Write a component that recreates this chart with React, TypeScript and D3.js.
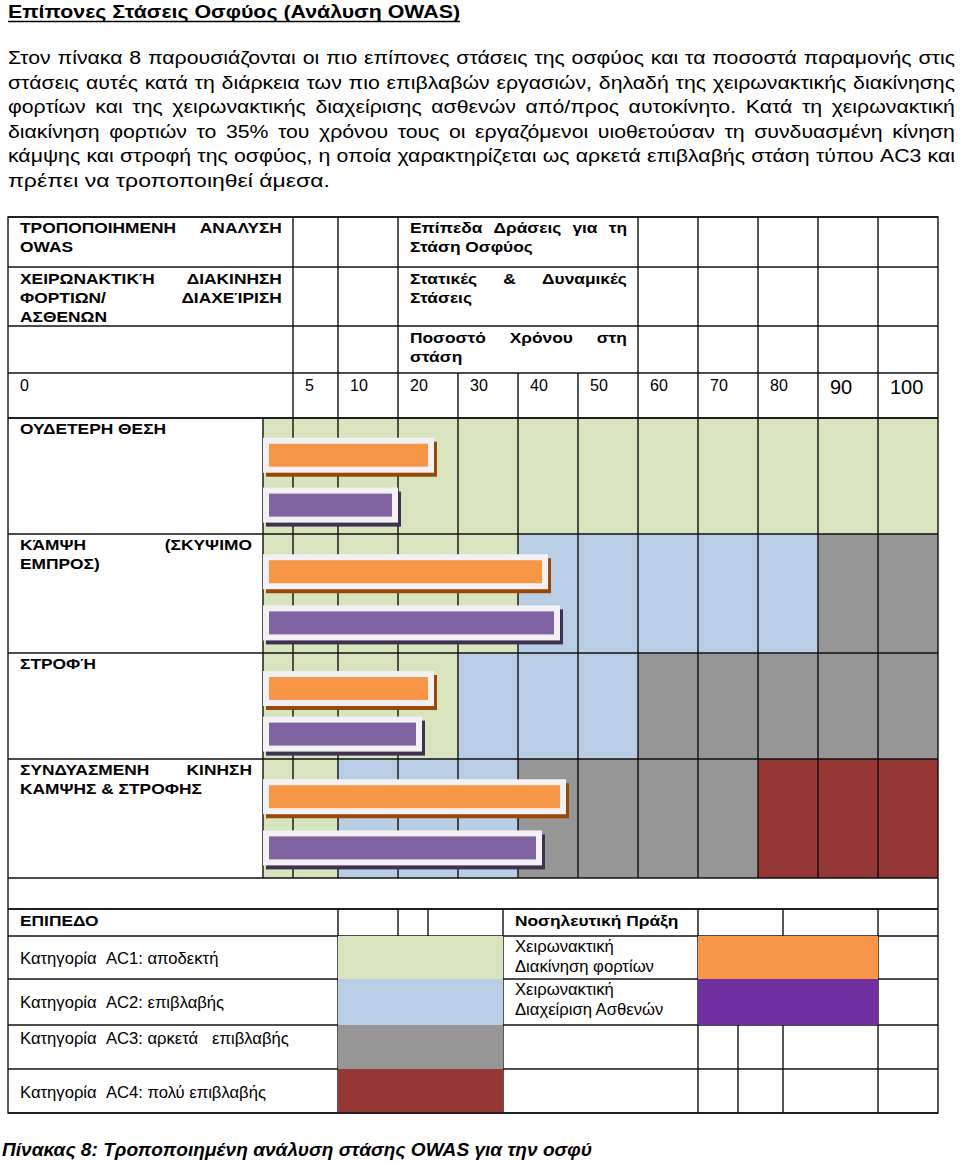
import React, { useLayoutEffect, useRef } from 'react';
import * as d3 from 'd3';

// ---------- data ----------
const TICKS = [0, 5, 10, 20, 30, 40, 50, 60, 70, 80, 90, 100];
const ROW_LABELS: string[][] = [
  ['ΟΥΔΕΤΕΡΗ ΘΕΣΗ'],
  ['ΚΆΜΨΗ (ΣΚΥΨΙΜΟ', 'ΕΜΠΡΟΣ)'],
  ['ΣΤΡΟΦΉ'],
  ['ΣΥΝΔΥΑΣΜΕΝΗ ΚΙΝΗΣΗ', 'ΚΑΜΨΗΣ & ΣΤΡΟΦΗΣ'],
];
// percentage of time in posture
const LOAD_HANDLING = [25, 44, 25, 47];
const PATIENT_HANDLING = [19, 46, 23, 43];
// action level (1..4) of each cell, per posture row
const ROW_LEVELS = [
  [1, 1, 1, 1, 1, 1, 1, 1, 1, 1, 1, 1],
  [1, 1, 1, 1, 1, 2, 2, 2, 2, 2, 3, 3],
  [1, 1, 1, 1, 2, 2, 2, 3, 3, 3, 3, 3],
  [1, 1, 2, 2, 2, 3, 3, 3, 3, 4, 4, 4],
];
const LEVEL_LABELS = [
  'Κατηγορία  AC1: αποδεκτή',
  'Κατηγορία  AC2: επιβλαβής',
  'Κατηγορία  AC3: αρκετά   επιβλαβής',
  'Κατηγορία  AC4: πολύ επιβλαβής',
];
const SERIES_LABELS = [
  ['Χειρωνακτική', 'Διακίνηση φορτίων'],
  ['Χειρωνακτική', 'Διαχείριση Ασθενών'],
];
const PARAGRAPH = [
  'Στον πίνακα 8 παρουσιάζονται οι πιο επίπονες στάσεις της οσφύος και τα ποσοστά παραμονής στις',
  'στάσεις αυτές κατά τη διάρκεια των πιο επιβλαβών εργασιών, δηλαδή της χειρωνακτικής διακίνησης',
  'φορτίων και της χειρωνακτικής διαχείρισης ασθενών από/προς αυτοκίνητο. Κατά τη χειρωνακτική',
  'διακίνηση φορτιών το 35% του χρόνου τους οι εργαζόμενοι υιοθετούσαν τη συνδυασμένη κίνηση',
  'κάμψης και στροφή της οσφύος, η οποία χαρακτηρίζεται ως αρκετά επιβλαβής στάση τύπου AC3 και',
  'πρέπει να τροποποιηθεί άμεσα.',
];

// ---------- styles ----------
const LEVEL_COLORS = ['#d7e4bd', '#b9cde5', '#969696', '#953735'];
const BAR_FILL = ['#f79646', '#8064a2'];
const BAR_SHADOW = ['#984807', '#3f3151'];
const LEGEND_SERIES = ['#f79646', '#7030a0'];
const FONT = 'Liberation Sans, Arial, sans-serif';

const L = 8;
const R = 938;
const x = d3.scaleLinear().domain(TICKS).range([263, 293, 338, 398, 458, 518, 578, 638, 698, 758, 818, 878]);
const cellEnd = (i: number) => (i < TICKS.length - 1 ? x(TICKS[i + 1]) : R);

const HEADER_Y = [217, 267, 326, 373, 418];
const ROW_Y = [418, 534, 653, 759, 878];
const BLANK_BOTTOM = 909;
const LEG_Y = [909, 936, 979, 1025, 1069, 1113];

// justified line: glyphs stretched horizontally up to kMax, remaining space goes between words
function Justified({ x0, x1, y, text, size, weight = 'normal', kMax = 1.1 }: any) {
  const ref = useRef<SVGTextElement>(null);
  const words = text.split(/\s+/);
  useLayoutEffect(() => {
    const el = ref.current;
    if (!el) return;
    const spans = Array.from(el.querySelectorAll('tspan')) as SVGTSpanElement[];
    const widths = spans.map((s) => s.getComputedTextLength());
    const total = widths.reduce((a, b) => a + b, 0);
    const W = x1 - x0;
    const natural = total + (spans.length - 1) * size * 0.278;
    const k = Math.min(kMax, W / natural);
    const gap = spans.length > 1 ? (W / k - total) / (spans.length - 1) : 0;
    el.setAttribute('transform', `translate(${x0},${y}) scale(${k},1)`);
    let cx = 0;
    spans.forEach((s, i) => {
      s.setAttribute('x', String(cx));
      cx += widths[i] + gap;
    });
  }, [text, x0, x1]);
  return (
    <text ref={ref} transform={`translate(${x0},${y})`} fontSize={size} fontWeight={weight} fill="#000" fontFamily={FONT}>
      {words.map((w: string, i: number) => (
        <tspan key={i} x={0} y={0}>
          {w}
        </tspan>
      ))}
    </text>
  );
}

function T({ x: tx, y, children, size = 16, weight = 'normal', style = 'normal', k = 1, len }: any) {
  return (
    <text
      transform={`translate(${tx},${y}) scale(${k},1)`}
      fontSize={size}
      fontWeight={weight}
      fontStyle={style}
      fontFamily={FONT}
      fill="#000"
      style={{ whiteSpace: 'pre' }}
      {...(len ? { textLength: len, lengthAdjust: 'spacingAndGlyphs' } : {})}
    >
      {children}
    </text>
  );
}

const line = (x1: number, y1: number, x2: number, y2: number, k: string) => (
  <line key={k} x1={x1} y1={y1} x2={x2} y2={y2} stroke="#111" strokeWidth={1.4} />
);

const TK = 1.12; // horizontal stretch of table text
const TS = 15.5;

export default function App() {
  const lines: JSX.Element[] = [];
  HEADER_Y.forEach((y, i) => lines.push(line(L, y, R, y, 'hh' + i)));
  const headerCols = [5, 10, 20, 60, 70, 80, 90, 100];
  headerCols.forEach((t) => lines.push(line(x(t), HEADER_Y[0], x(t), HEADER_Y[3], 'hv' + t)));
  TICKS.slice(1).forEach((t) => lines.push(line(x(t), HEADER_Y[3], x(t), HEADER_Y[4], 'nv' + t)));

  const cells: JSX.Element[] = [];
  ROW_LEVELS.forEach((levels, r) => {
    levels.forEach((lv, i) => {
      cells.push(
        <rect
          key={`c${r}-${i}`}
          x={x(TICKS[i])}
          y={ROW_Y[r]}
          width={cellEnd(i) - x(TICKS[i])}
          height={ROW_Y[r + 1] - ROW_Y[r]}
          fill={LEVEL_COLORS[lv - 1]}
        />
      );
    });
  });
  ROW_Y.forEach((y, i) => lines.push(line(L, y, R, y, 'rh' + i)));
  TICKS.forEach((t) => lines.push(line(x(t), ROW_Y[0], x(t), ROW_Y[ROW_Y.length - 1], 'rv' + t)));
  lines.push(line(L, BLANK_BOTTOM, R, BLANK_BOTTOM, 'blank'));

  const bars: JSX.Element[] = [];
  const series = [LOAD_HANDLING, PATIENT_HANDLING];
  const offs = [0.17, 0.6];
  const FH = 35;
  series.forEach((vals, s) => {
    vals.forEach((v, r) => {
      const h = ROW_Y[r + 1] - ROW_Y[r];
      const top = ROW_Y[r] + offs[s] * h;
      const x0 = x(0);
      const x1 = x(v);
      bars.push(
        <g key={`b${s}-${r}`}>
          <rect x={x0 + 3} y={top + 4} width={x1 + 6 - x0} height={FH} fill={BAR_SHADOW[s]} />
          <rect x={x0} y={top} width={x1 + 6 - x0} height={FH} fill="#f3f1f3" />
          <rect x={x0 + 6} y={top + 6} width={x1 - x0 - 6} height={FH - 12} fill={BAR_FILL[s]} />
        </g>
      );
    });
  });

  const legend: JSX.Element[] = [];
  LEG_Y.forEach((y, i) => lines.push(line(L, y, R, y, 'lh' + i)));
  LEVEL_COLORS.forEach((c, i) => {
    legend.push(<rect key={'lc' + i} x={338} y={LEG_Y[i + 1]} width={165} height={LEG_Y[i + 2] - LEG_Y[i + 1]} fill={c} />);
  });
  LEGEND_SERIES.forEach((c, i) => {
    legend.push(<rect key={'ls' + i} x={698} y={LEG_Y[i + 1]} width={180} height={LEG_Y[i + 2] - LEG_Y[i + 1]} fill={c} />);
  });
  [338, 503, 698, 878].forEach((vx) => lines.push(line(vx, LEG_Y[0], vx, LEG_Y[5], 'lv' + vx)));
  [398, 428].forEach((vx) => lines.push(line(vx, LEG_Y[0], vx, LEG_Y[1], 'lv1' + vx)));
  lines.push(line(783, LEG_Y[0], 783, LEG_Y[1], 'lv783a'));
  [738, 783].forEach((vx) => lines.push(line(vx, LEG_Y[3], vx, LEG_Y[5], 'lv3' + vx)));

  return (
    <svg width={960} height={1163} style={{ position: 'absolute', left: 0, top: 0, background: '#fff' }}>
      <rect x={0} y={0} width={960} height={1163} fill="#fff" />
      <T x={8} y={18} size={18} weight="bold" len={452}>
        Επίπονες Στάσεις Οσφύος (Ανάλυση OWAS)
      </T>
      <line x1={8} y1={21.5} x2={460} y2={21.5} stroke="#000" strokeWidth={1.3} />
      {PARAGRAPH.map((p, i) =>
        i < PARAGRAPH.length - 1 ? (
          <Justified key={'p' + i} x0={8} x1={955} y={64 + i * 24.6} text={p} size={18.5} kMax={1.15} />
        ) : (
          <T key={'p' + i} x={8} y={64 + i * 24.6} size={18.5} len={322}>
            {p}
          </T>
        )
      )}

      {cells}
      {lines}
      {legend}
      <rect x={L} y={HEADER_Y[0]} width={R - L} height={LEG_Y[5] - HEADER_Y[0]} fill="none" stroke="#111" strokeWidth={1.4} />
      {bars}

      <Justified x0={20} x1={282} y={233} text="ΤΡΟΠΟΠΟΙΗΜΕΝΗ ΑΝΑΛΥΣΗ" size={TS} weight="bold" kMax={TK} />
      <T x={20} y={252} size={TS} weight="bold" k={TK}>OWAS</T>
      <Justified x0={20} x1={282} y={284} text="ΧΕΙΡΩΝΑΚΤΙΚΉ ΔΙΑΚΙΝΗΣΗ" size={TS} weight="bold" kMax={TK} />
      <Justified x0={20} x1={282} y={303} text="ΦΟΡΤΙΩΝ/ ΔΙΑΧΕΊΡΙΣΗ" size={TS} weight="bold" kMax={TK} />
      <T x={20} y={322} size={TS} weight="bold" k={TK}>ΑΣΘΕΝΩΝ</T>

      <Justified x0={410} x1={627} y={233} text="Επίπεδα Δράσεις για τη" size={TS} weight="bold" kMax={TK} />
      <T x={410} y={252} size={TS} weight="bold" k={TK}>Στάση Οσφύος</T>
      <Justified x0={410} x1={627} y={284} text="Στατικές & Δυναμικές" size={TS} weight="bold" kMax={TK} />
      <T x={410} y={303} size={TS} weight="bold" k={TK}>Στάσεις</T>
      <Justified x0={410} x1={627} y={343} text="Ποσοστό Χρόνου στη" size={TS} weight="bold" kMax={TK} />
      <T x={410} y={362} size={TS} weight="bold" k={TK}>στάση</T>

      <T x={20} y={391} size={16}>0</T>
      {TICKS.slice(1).map((t) => (
        <T key={'t' + t} x={x(t) + 12} y={t >= 90 ? 394 : 391} size={t >= 90 ? 20 : 16}>
          {t}
        </T>
      ))}

      {ROW_LABELS.map((lab, r) =>
        lab.map((s, j) =>
          j === 0 && lab.length > 1 ? (
            <Justified key={`rl${r}-${j}`} x0={20} x1={252} y={ROW_Y[r] + 16 + j * 19} text={s} size={TS} weight="bold" kMax={TK} />
          ) : (
            <T key={`rl${r}-${j}`} x={20} y={ROW_Y[r] + 16 + j * 19} size={TS} weight="bold" k={TK}>
              {s}
            </T>
          )
        )
      )}

      <T x={20} y={926} size={TS} weight="bold" k={TK}>ΕΠΙΠΕΔΟ</T>
      <T x={515} y={926} size={TS} weight="bold" k={TK}>Νοσηλευτική Πράξη</T>
      {LEVEL_LABELS.map((s, i) => (
        <T key={'ll' + i} x={20} y={[964, 1008, 1044, 1098][i]} size={16} k={1.04}>
          {s}
        </T>
      ))}
      {SERIES_LABELS.map((lab, i) =>
        lab.map((s, j) => (
          <T key={`sl${i}-${j}`} x={515} y={LEG_Y[i + 1] + 16 + j * 20} size={16} k={1.04}>
            {s}
          </T>
        ))
      )}

      <T x={2} y={1156} size={18} weight="bold" style="italic" len={590}>
        Πίνακας 8: Τροποποιημένη ανάλυση στάσης OWAS για την οσφύ
      </T>
    </svg>
  );
}
